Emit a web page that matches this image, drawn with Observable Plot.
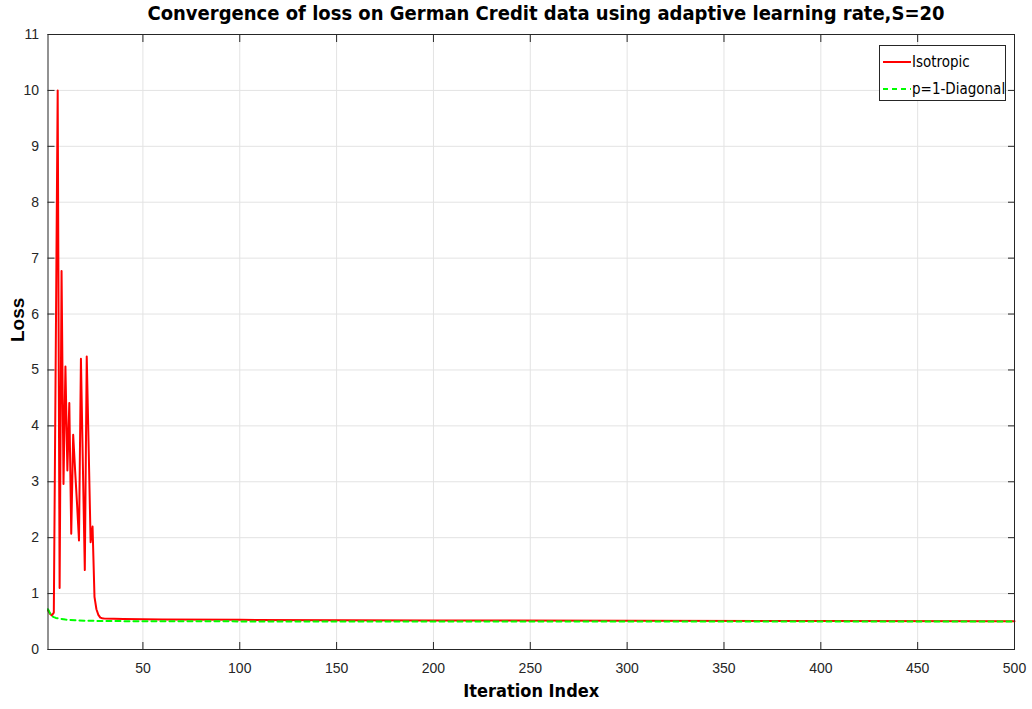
<!DOCTYPE html>
<html>
<head>
<meta charset="utf-8">
<script src="https://cdn.jsdelivr.net/npm/d3@7"></script>
<script src="https://cdn.jsdelivr.net/npm/@observablehq/plot@0.6"></script>
<style>
  html, body { margin: 0; padding: 0; background: #fff; }
  body { width: 1032px; height: 709px; position: relative; overflow: hidden; }
  #title { height: 26px; line-height: 27px; text-align: center; font-family: "DejaVu Sans Condensed", "Liberation Sans", sans-serif; font-weight: bold; font-size: 20px; color: #000; padding-left: 60px; white-space: nowrap; }
  #chart svg { overflow: visible; display: block; }
  #legend { position: absolute; left: 879px; top: 45px; width: 125px; height: 54px; background: #fff; border: 1px solid #262626; font-family: "DejaVu Sans Condensed", "Liberation Sans", sans-serif; font-size: 15px; color: #000; }
  #legend .row { position: absolute; left: 3px; height: 20px; display: flex; align-items: center; white-space: nowrap; }
  #legend svg { margin-right: 1px; }
</style>
</head>
<body>
<div id="title">Convergence of loss on German Credit data using adaptive learning rate,S=20</div>
<div id="chart"></div>
<div id="legend"></div>
<script>
// Isotropic series (iteration, loss)
const isoIter = [1,2,3,4,5,6,7,8,9,10,11,12,13,14,15,16,17,18,19,20,21,22,23,24,25,26,27,28,29,30,40,60,100,200,300,400,500];
const isoLoss = [0.70,0.64,0.61,0.66,5.3,10.0,1.1,6.77,2.96,5.06,3.2,4.41,2.07,3.84,3.2,2.6,1.95,5.2,3.3,1.42,5.24,3.6,1.92,2.2,0.94,0.72,0.62,0.57,0.56,0.555,0.545,0.535,0.53,0.52,0.515,0.51,0.505];
// p=1-Diagonal series
const diagIter = [1,2,3,4,5,7,10,15,20,30,50,100,200,300,400,500];
const diagLoss = [0.72,0.65,0.60,0.58,0.565,0.55,0.535,0.525,0.515,0.51,0.505,0.503,0.502,0.501,0.50,0.50];
const xTicks = [50,100,150,200,250,300,350,400,450,500];
const yTicks = [0,1,2,3,4,5,6,7,8,9,10,11];
const seriesNames = ["Isotropic", "p=1-Diagonal"];
const seriesColors = ["#ff0000", "#00ff00"];

const iso = isoIter.map((x, i) => ({x, y: isoLoss[i]}));
const diag = diagIter.map((x, i) => ({x, y: diagLoss[i]}));

const font = '"Liberation Sans", "DejaVu Sans", sans-serif';
const axisColor = "#262626";

const plot = Plot.plot({
  width: 1032,
  height: 683,
  marginLeft: 47.5,
  marginRight: 18,
  marginTop: 8,
  marginBottom: 60,
  style: { fontFamily: font, fontSize: "14px", color: axisColor, background: "#fff" },
  x: { domain: [1, 500] },
  y: { domain: [0, 11] },
  marks: [
    Plot.gridX(xTicks, { stroke: "#e3e3e3", strokeOpacity: 1 }),
    Plot.gridY(yTicks, { stroke: "#e3e3e3", strokeOpacity: 1 }),
    Plot.axisX(xTicks, { anchor: "bottom", tickSize: 0, tickPadding: 14, label: null, fill: axisColor, tickFormat: d => String(d) }),
    Plot.axisX(xTicks, { anchor: "bottom", tickSize: -7, text: null, label: null, stroke: axisColor }),
    Plot.axisX(xTicks, { anchor: "top", tickSize: -7, text: null, label: null, stroke: axisColor }),
    Plot.axisY(yTicks, { anchor: "left", tickSize: 0, tickPadding: 9, label: null, fill: axisColor, tickFormat: d => String(d) }),
    Plot.axisY(yTicks, { anchor: "left", tickSize: -7, text: null, label: null, stroke: axisColor }),
    Plot.axisY(yTicks, { anchor: "right", tickSize: -7, text: null, label: null, stroke: axisColor }),
    Plot.line(iso, { x: "x", y: "y", stroke: seriesColors[0], strokeWidth: 2, strokeLinejoin: "round" }),
    Plot.line(diag, { x: "x", y: "y", stroke: seriesColors[1], strokeWidth: 2, strokeDasharray: "5,4" }),
    Plot.frame({ stroke: axisColor, strokeWidth: 1 }),
    Plot.text(["Iteration Index"], { frameAnchor: "bottom", dy: 47, text: d => d, fontWeight: "bold", fontSize: 18, fontFamily: '"DejaVu Sans Condensed", sans-serif', fill: "#000" }),
    Plot.text(["Loss"], { frameAnchor: "left", dx: -30, rotate: -90, text: d => d, fontWeight: "bold", fontSize: 19, fill: "#000" })
  ]
});
document.getElementById("chart").appendChild(plot);

// legend
const legend = document.getElementById("legend");
seriesNames.forEach((name, i) => {
  const row = document.createElement("div");
  row.className = "row";
  row.style.top = (i === 0 ? 6 : 33) + "px";
  const dash = i === 1 ? 'stroke-dasharray="5,4"' : '';
  row.innerHTML = `<svg width="28" height="10"><line x1="0" y1="5" x2="28" y2="5" stroke="${seriesColors[i]}" stroke-width="2" ${dash}/></svg><span>${name}</span>`;
  legend.appendChild(row);
});
</script>
</body>
</html>
